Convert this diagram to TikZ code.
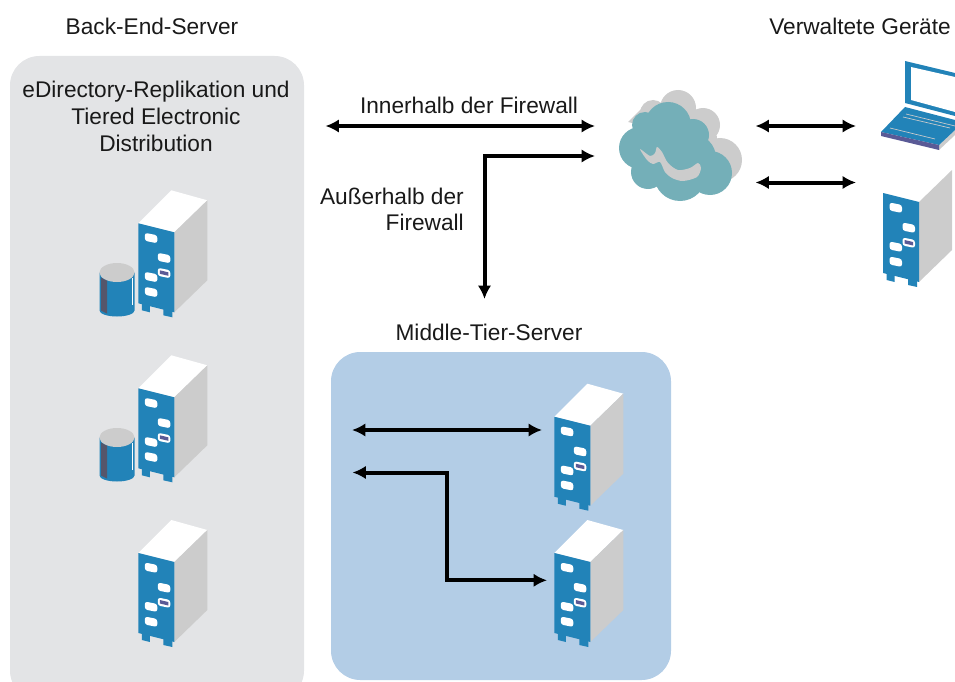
\documentclass[tikz,border=0pt]{standalone}
\usepackage{fontspec}
\setmainfont{Liberation Sans}
\usetikzlibrary{arrows.meta, positioning}
\definecolor{srvblue}{HTML}{2283B8}
\definecolor{srvgray}{HTML}{CCCCCC}
\definecolor{srvslot}{HTML}{5A5A96}
\definecolor{drumslot}{HTML}{55566B}
\definecolor{panelgray}{HTML}{E3E4E6}
\definecolor{panelblue}{HTML}{B3CDE6}
\definecolor{cloudteal}{HTML}{74AFB8}
\tikzstyle{twoway} = [draw, line width=3pt, {Latex[length=10pt,width=10pt]}-{Latex[length=10pt,width=10pt]}]
\tikzstyle{caption} = [font=\fontsize{17}{20}\selectfont, inner sep=0pt, text=black!90]
\tikzstyle{panel} = [rounded corners=22pt, draw=none]
\tikzstyle{hole} = [fill=white, rounded corners=2pt]

\tikzset{
    server/.pic={
        \fill[srvblue] (3.5,79) -- (3.5,87) -- (11.5,89) -- (11.5,81) -- cycle;
        \fill[srvblue] (25,85) -- (25,92) -- (34,94) -- (34,87) -- cycle;
        \fill[white] (0,0) -- (33,-33) -- (69,-23) -- (36,9) -- cycle;
        \fill[srvgray] (36,9) -- (69,-23) -- (69,57) -- (36,89) -- cycle;
        \fill[srvblue] (0,0) -- (36,9) -- (36,89) -- (0,80) -- cycle;
        \fill[hole] (6.5,9.5) -- (19,12) -- (19,20) -- (6.5,17.5) -- cycle;
        \fill[hole] (19.5,29.5) -- (32,32) -- (32,40) -- (19.5,37.5) -- cycle;
        \fill[hole] (6.5,48.5) -- (19,51) -- (19,59) -- (6.5,56.5) -- cycle;
        \fill[hole] (6.5,63.5) -- (19,66) -- (19,74) -- (6.5,71.5) -- cycle;
        \fill[hole] (19.5,44.5) -- (32,47) -- (32,55) -- (19.5,52.5) -- cycle;
        \fill[srvslot] (21.5,47) -- (30,49) -- (30,52.5) -- (21.5,50.5) -- cycle;
    },
    drum/.pic={
        \fill[srvblue] (-17.5,0) -- (-17.5,38) arc[start angle=180, end angle=360, x radius=17.5, y radius=-6] -- (17.5,0) -- cycle;
        \fill[drumslot] (-16,5) -- (-16,38) -- (-10,41) -- (-10,8) -- cycle;
        \fill[white] (14.5,5) -- (14.5,32) -- (15.5,32) -- (15.5,5) -- cycle;
        \fill[srvgray] (0,0) ellipse[x radius=17.5, y radius=9.5];
    }
}

\begin{document}
\begin{tikzpicture}[x=0.75pt, y=-0.75pt]
    \useasboundingbox (0,0) rectangle (955,681);

    % panels
    \fill[panelgray, panel] (10,700) -- (10,56) -- (304,56) -- (304,700) -- cycle;
    \fill[panelblue, panel] (331,352) rectangle (671,680);

    % titles
    \node[caption] (backend) at (152,26) {Back-End-Server};
    \node[caption] (managed) at (860,26) {Verwaltete Geräte};
    \node[caption] (middle) at (489,332) {Middle-Tier-Server};
    \node[caption, align=center] (replica) at (156,116.5) {eDirectory-Replikation und\\Tiered Electronic\\Distribution};
    \node[caption] (inside) at (469,105) {Innerhalb der Firewall};
    \node[caption, align=right, anchor=east] (outside) at (464,209.5) {Außerhalb der\\Firewall};

    % servers
    \path (138.3,223.3) pic {server};
    \path (138.3,388.3) pic {server};
    \path (138.3,553) pic {server};
    \path (554.3,416.7) pic {server};
    \path (554.3,553) pic {server};
    \path (883,193) pic {server};
    \path (117,272.5) pic {drum};
    \path (117,437.5) pic {drum};

    % cloud
    \fill[srvgray] (678,108) circle (18) (653,113) circle (13) (703,125) circle (17)
        (720,160) circle (22) (685,140) circle (32) (705,165) circle (26);
    \fill[srvgray] (628,122) -- (645,105) -- (660,130) -- cycle;
    \fill[cloudteal] (668,125) circle (23) (640,148) circle (21) (645,125) circle (13)
        (693,135) circle (16) (710,173) circle (22) (680,175) circle (26) (648,172) circle (17)
        (668,150) circle (32) (692,158) circle (24);
    \fill[srvgray] plot[smooth cycle, tension=0.5] coordinates {(640,149) (647,160) (653,164)
        (660,162) (665,172) (672,178) (683,181) (697,177) (701,168) (698,163) (690,168)
        (678,170) (668,163) (662,152) (657,147) (655,153) (650,156)};

    % laptop
    \fill[srvblue] (905,61) -- (955,73) -- (955,116) -- (905,103) -- cycle;
    \fill[white] (911,67) -- (955,77) -- (955,112) -- (911,100) -- cycle;
    \fill[srvgray] (939,145) -- (955,130) -- (955,135) -- (939,150) -- cycle;
    \fill[srvblue] (905,107) -- (955,120) -- (955,130) -- (939,145) -- (881,132) -- cycle;
    \fill[srvslot] (881,132) -- (939,145) -- (939,150) -- (881,136) -- cycle;
    \draw[srvgray, line width=0.5pt] (906,114) -- (955,126);
    \draw[srvgray, line width=0.5pt] (903,117) -- (950,128);
    \draw[srvgray, line width=0.5pt] (890,128) -- (935,139);

    % arrows
    \coordinate (in_l) at (325.5,126);
    \coordinate (in_r) at (595,126);
    \coordinate (out_r) at (595,156);
    \coordinate (out_b) at (484.5,299);
    \coordinate (dev_a_l) at (755.5,126);
    \coordinate (dev_a_r) at (856,126);
    \coordinate (dev_b_l) at (755.5,182.5);
    \coordinate (dev_b_r) at (856,182.5);
    \coordinate (mid_a_l) at (352,430);
    \coordinate (mid_a_r) at (542,430);
    \coordinate (mid_b_l) at (352.5,472.5);
    \coordinate (mid_b_r) at (547,580.3);

    \path[twoway] (in_l) -- (in_r);
    \path[twoway] (out_b) |- (out_r);
    \path[twoway] (dev_a_l) -- (dev_a_r);
    \path[twoway] (dev_b_l) -- (dev_b_r);
    \path[twoway] (mid_a_l) -- (mid_a_r);
    \path[twoway] (mid_b_l) -| (447.3,580.3) -- (mid_b_r);

\end{tikzpicture}
\end{document}
